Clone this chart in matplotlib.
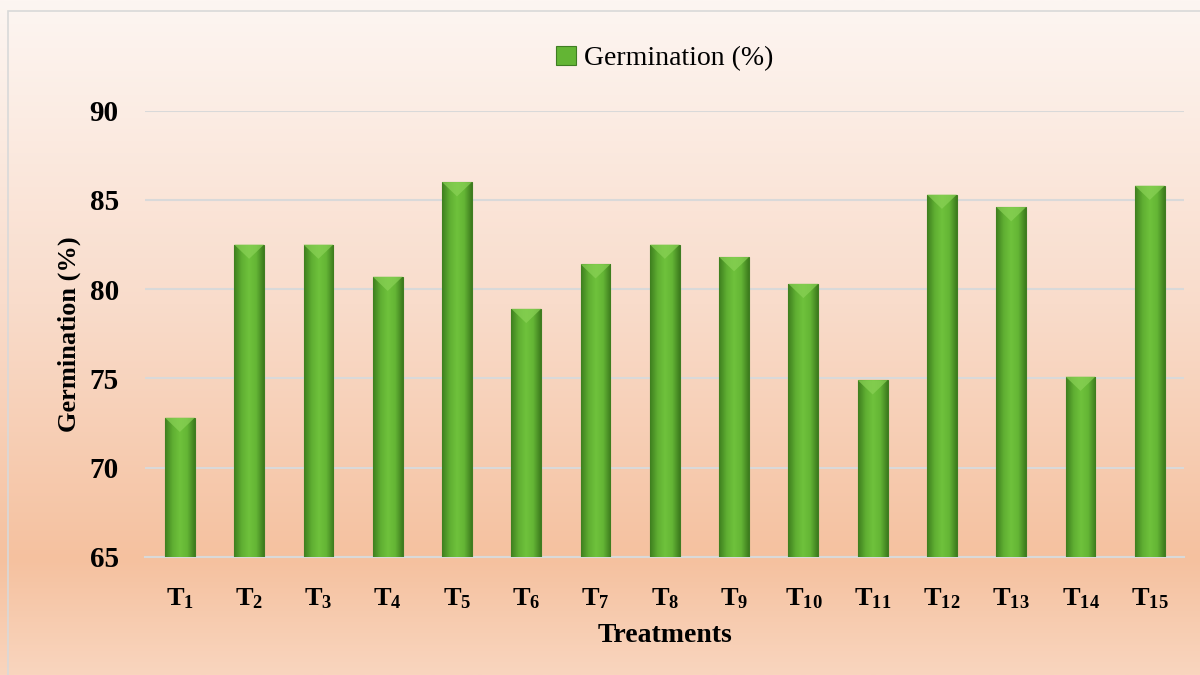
import numpy as np
import matplotlib
matplotlib.use("Agg")
import matplotlib.pyplot as plt
from matplotlib.colors import LinearSegmentedColormap
from matplotlib.patches import Rectangle

treatments = [f"T{i}" for i in range(1, 16)]
germination = [72.8, 82.5, 82.5, 80.7, 86.0, 78.9, 81.4, 82.5, 81.8, 80.3,
               74.9, 85.3, 84.6, 75.1, 85.8]
yticks = [65, 70, 75, 80, 85, 90]

plt.rcParams['font.family'] = ['Liberation Serif', 'DejaVu Serif']
plt.rcParams['mathtext.fontset'] = 'custom'
plt.rcParams['mathtext.rm'] = 'Liberation Serif'
plt.rcParams['mathtext.bf'] = 'Liberation Serif:bold'

fig = plt.figure(figsize=(12, 6.75), dpi=100)

# background gradient
bg = fig.add_axes([0, 0, 1, 1], zorder=-10)
bg.set_axis_off()
bgcmap = LinearSegmentedColormap.from_list(
    "bg", [(0, "#FDF6F2"), (0.45, "#F9DCCB"), (0.83, "#F5C19F"), (1.0, "#F9D5BE")])
grad = np.linspace(0, 1, 256).reshape(-1, 1)
bg.imshow(grad, aspect='auto', cmap=bgcmap, extent=[0, 1, 0, 1], origin='upper')
bg.set_xlim(0, 1); bg.set_ylim(0, 1)
bg.add_patch(Rectangle((0.007, -0.01), 1.0, 0.993, fill=False, edgecolor="#D9D9D9", lw=1.2))

ax = fig.add_axes([0.121, 0.175, 0.866, 0.661])
ax.patch.set_alpha(0)
x = np.arange(len(treatments))
bars = ax.bar(x, germination, width=0.43, bottom=0, color="#63B534",
              edgecolor="#3F7D22", linewidth=0.8, zorder=3)
ax.set_ylim(65, 90)
ax.set_xlim(-0.5, len(treatments) - 0.5)

bar_cmap = LinearSegmentedColormap.from_list(
    "bar", ["#3E7F1F", "#5FAE32", "#6FC23C", "#64B535", "#3D7C1E"])
hgrad = np.linspace(0, 1, 64).reshape(1, -1)
for b in bars:
    bx, bw, bh = b.get_x(), b.get_width(), b.get_height()
    im = ax.imshow(hgrad, cmap=bar_cmap, aspect='auto',
                   extent=[bx, bx + bw, 65, bh], zorder=3.5)
    im.set_clip_path(b)
    # bevel top
    tri = plt.Polygon([[bx, bh], [bx + bw, bh], [bx + bw / 2, bh - 0.8]],
                      closed=True, facecolor="#8AD256", edgecolor='none', zorder=4, alpha=0.7)
    ax.add_patch(tri)
ax.set_aspect('auto')

ax.set_yticks(yticks)
ax.set_yticklabels([str(v) for v in yticks], fontsize=21, fontweight='bold')
ax.set_xticks(x)
ax.set_xticklabels([r"$\mathbf{T_{%s}}$" % t[1:] for t in treatments], fontsize=19)
ax.tick_params(axis='both', length=0)
ax.tick_params(axis='x', pad=21)
ax.tick_params(axis='y', pad=19)
ax.grid(axis='y', color="#D9D9D9", linewidth=1.5, zorder=0)
for s in ['top', 'right', 'left']:
    ax.spines[s].set_visible(False)
ax.spines['bottom'].set_color("#D9D9D9")
ax.spines['bottom'].set_linewidth(1.5)

ax.set_xlabel("Treatments", fontsize=20, fontweight='bold', labelpad=9)
ax.set_ylabel("Germination (%)", fontsize=19, fontweight='bold', labelpad=6)

leg = ax.legend([bars[0]], ["Germination (%)"], loc='lower center',
                bbox_to_anchor=(0.5, 1.032), frameon=False, fontsize=20,
                handlelength=0.7, handleheight=0.7, handletextpad=0.3)

fig.savefig("out.png", dpi=100)
